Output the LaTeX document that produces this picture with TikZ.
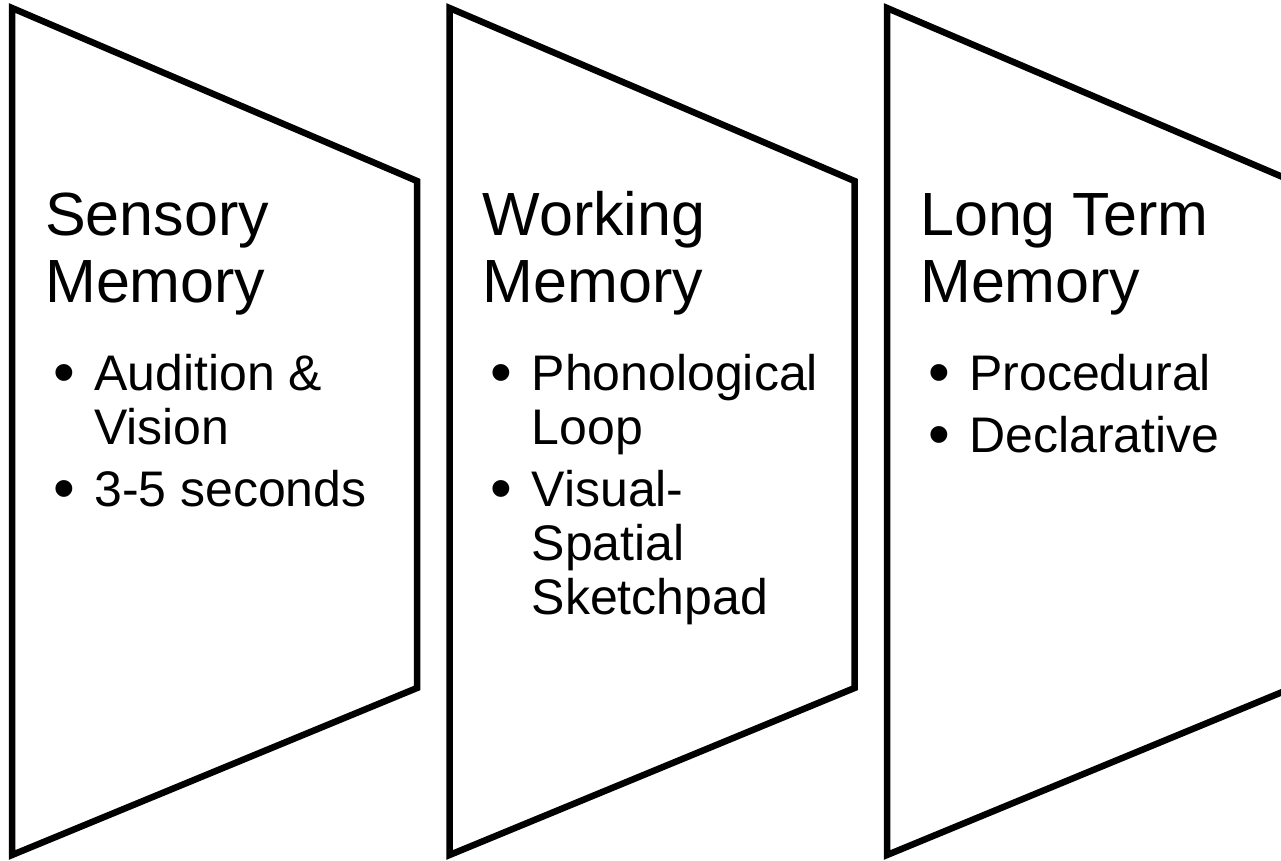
\documentclass[tikz,border=0pt]{standalone}
\usepackage{fontspec}
\setmainfont{Liberation Sans}
\begin{document}
\begin{tikzpicture}[x=1pt,y=-1pt,
  panel/.style={draw=black,line width=6.5pt,line join=miter,fill=white},
  title/.style={anchor=base west,inner sep=0pt,font=\fontsize{61}{66}\selectfont},
  item/.style={anchor=base west,inner sep=0pt,font=\fontsize{50}{54}\selectfont},
  dot/.style={anchor=base west,inner sep=0pt,font=\fontsize{62}{66}\selectfont}]
\useasboundingbox (0,0) rectangle (1281,860);
\clip (0,0) rectangle (1281,860);
% panels
\foreach \k in {0,1,2}{
  \pgfmathsetmacro{\xo}{12+437.5*\k}
  \draw[panel] (\xo,8) -- (\xo+405,181) -- (\xo+405,688) -- (\xo,855) -- cycle;
}
% panel 1
\node[title] (t1a) at (45,235) {Sensory};
\node[title] (t1b) at (45,302) {Memory};
\node[dot] (b1a) at (53,393) {•};
\node[item] (i1a) at (94,390) {Audition \&};
\node[item] (i1b) at (94,444) {Vision};
\node[dot] (b1b) at (53,509) {•};
\node[item] (i1c) at (94,506) {3-5 seconds};
% panel 2
\node[title] (t2a) at (482.5,235) {Working};
\node[title] (t2b) at (482.5,302) {Memory};
\node[dot] (b2a) at (490.5,393) {•};
\node[item] (i2a) at (531.5,390) {Phonological};
\node[item] (i2b) at (531.5,444) {Loop};
\node[dot] (b2b) at (490.5,509) {•};
\node[item] (i2c) at (531.5,506) {Visual-};
\node[item] (i2d) at (531.5,560) {Spatial};
\node[item] (i2e) at (531.5,614) {Sketchpad};
% panel 3
\node[title] (t3a) at (920,235) {Long Term};
\node[title] (t3b) at (920,302) {Memory};
\node[dot] (b3a) at (928,393) {•};
\node[item] (i3a) at (969,390) {Procedural};
\node[dot] (b3b) at (928,455) {•};
\node[item] (i3b) at (969,452) {Declarative};
\end{tikzpicture}
\end{document}
